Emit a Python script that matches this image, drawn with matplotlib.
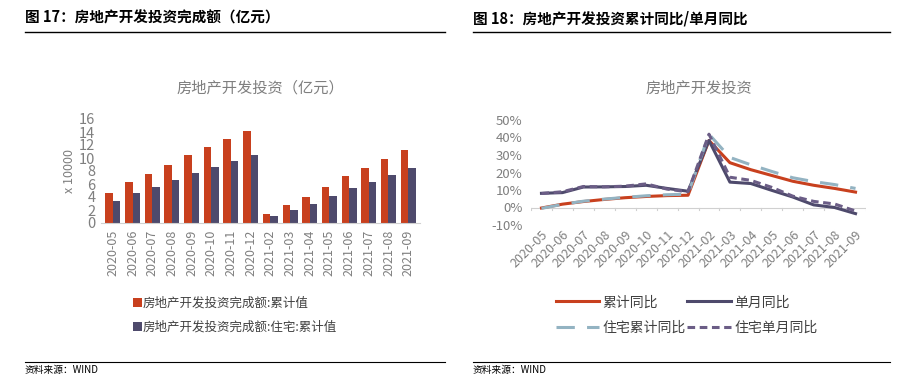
import numpy as np
import matplotlib
matplotlib.use("Agg")
import matplotlib.pyplot as plt
from matplotlib.lines import Line2D

plt.rcParams['font.family'] = ['Noto Sans CJK SC', 'DejaVu Sans']

# data
months = ['2020-05', '2020-06', '2020-07', '2020-08', '2020-09', '2020-10', '2020-11', '2020-12',
          '2021-02', '2021-03', '2021-04', '2021-05', '2021-06', '2021-07', '2021-08', '2021-09']
invest_total = [4.59, 6.28, 7.57, 8.85, 10.39, 11.66, 12.92, 14.14,
                1.39, 2.76, 4.02, 5.49, 7.22, 8.48, 9.84, 11.26]
invest_house = [3.38, 4.64, 5.59, 6.54, 7.66, 8.61, 9.56, 10.45,
                1.03, 2.05, 2.99, 4.08, 5.37, 6.36, 7.40, 8.46]

cum_yoy = [-0.3, 1.9, 3.4, 4.6, 5.6, 6.3, 6.8, 7.0, 38.3, 25.6, 21.6, 18.3, 15.0, 12.7, 10.9, 8.8]
mon_yoy = [8.1, 8.5, 11.7, 11.8, 12.0, 12.7, 10.9, 9.3, 38.3, 14.5, 13.7, 9.8, 6.0, 1.5, 0.0, -3.5]
house_cum_yoy = [-0.5, 1.8, 3.6, 4.8, 5.8, 6.7, 7.3, 7.6, 41.9, 28.6, 24.4, 20.6, 17.0, 14.8, 13.1, 10.9]
house_mon_yoy = [8.0, 9.0, 12.0, 11.8, 12.2, 13.5, 10.5, 9.0, 41.9, 17.3, 15.5, 11.5, 6.5, 3.5, 2.0, -2.0]

RED = '#C8401E'
DARK = '#4E4A6C'
LBLUE = '#93B3C2'
PURP = '#6B5D86'
GRAY = '#7F7F7F'

fig = plt.figure(figsize=(9.06, 3.85), dpi=100)

# headers and source lines
fig.text(25/906, 1-18/385, '图 17：房地产开发投资完成额（亿元）', fontsize=10.5, fontweight='bold', va='center')
fig.text(473/906, 1-18/385, '图 18：房地产开发投资累计同比/单月同比', fontsize=10.5, fontweight='bold', va='center')
for x0, x1 in [(25, 445), (473, 890)]:
    fig.add_artist(Line2D([x0/906, x1/906], [1-32/385]*2, color='black', lw=1))
    fig.add_artist(Line2D([x0/906, x1/906], [1-362/385]*2, color='black', lw=0.8))
fig.text(25/906, 1-370/385, '资料来源：WIND', fontsize=7, va='center')
fig.text(473/906, 1-370/385, '资料来源：WIND', fontsize=7, va='center')

# left chart
ax1 = fig.add_axes([101/906, 1-223/385, 319/906, 104/385])
x = np.arange(len(months))
w = 0.38
ax1.bar(x - w/2, invest_total, w, color=RED, label='房地产开发投资完成额:累计值')
ax1.bar(x + w/2, invest_house, w, color=DARK, label='房地产开发投资完成额:住宅:累计值')
ax1.set_xlim(-0.6, len(months) - 0.4)
ax1.set_ylim(0, 16)
ax1.set_yticks(range(0, 17, 2))
ax1.set_xticks(x)
ax1.set_xticklabels(months, rotation=90)
for s in ['top', 'right', 'left']:
    ax1.spines[s].set_visible(False)
ax1.spines['bottom'].set_color('#D0D0D0')
ax1.tick_params(axis='y', length=0, labelsize=10.5, labelcolor=GRAY, pad=4)
ax1.tick_params(axis='x', length=0, labelsize=9, labelcolor=GRAY, pad=5)
ax1.set_ylabel('x 10000', color=GRAY, fontsize=9, labelpad=2)
ax1.set_title('房地产开发投资（亿元）', color=GRAY, fontsize=11, pad=19)
ax1.legend(loc='upper center', bbox_to_anchor=(0.42, -0.6), ncol=1, frameon=False,
           fontsize=9, labelcolor='#404040', handlelength=0.7, handleheight=0.7,
           handletextpad=0.1, labelspacing=0.9)

# right chart
ax2 = fig.add_axes([531/906, 1-225/385, 335/906, 105/385])
l1, = ax2.plot(x, cum_yoy, color=RED, lw=2.2, label='累计同比')
l2, = ax2.plot(x, mon_yoy, color=DARK, lw=2.2, label='单月同比')
l3, = ax2.plot(x, house_cum_yoy, color=LBLUE, lw=2.2, dashes=(6, 4), label='住宅累计同比')
l4, = ax2.plot(x, house_mon_yoy, color=PURP, lw=2.2, dashes=(2.5, 1.5), label='住宅单月同比')
ax2.axhline(0, color='#D0D0D0', lw=0.8, zorder=0)
for xi in np.arange(-0.5, len(months), 1):
    ax2.plot([xi, xi], [0, -1.2], color='#D0D0D0', lw=0.8, zorder=0)
ax2.set_xlim(-0.5, len(months) - 0.5)
ax2.set_ylim(-10, 50)
ax2.set_yticks(range(-10, 51, 10))
ax2.set_yticklabels([f'{v}%' for v in range(-10, 51, 10)])
ax2.set_xticks(x)
ax2.set_xticklabels(months, rotation=45, ha='right', rotation_mode='anchor')
for s in ax2.spines.values():
    s.set_visible(False)
ax2.tick_params(axis='y', length=0, labelsize=9.5, labelcolor=GRAY, pad=6)
ax2.tick_params(axis='x', length=0, labelsize=9, labelcolor=GRAY, pad=2)
ax2.set_title('房地产开发投资', color=GRAY, fontsize=11, pad=20)
# column-wise fill: order so rows read 累计/单月, 住宅累计/住宅单月
ax2.legend([l1, l3, l2, l4], [h.get_label() for h in [l1, l3, l2, l4]],
           loc='upper center', bbox_to_anchor=(0.465, -0.55), ncol=2, frameon=False,
           fontsize=10, labelcolor='#404040', handlelength=3.1, handletextpad=0.3,
           columnspacing=0.1, labelspacing=0.85)

fig.savefig('out.png', dpi=100)
